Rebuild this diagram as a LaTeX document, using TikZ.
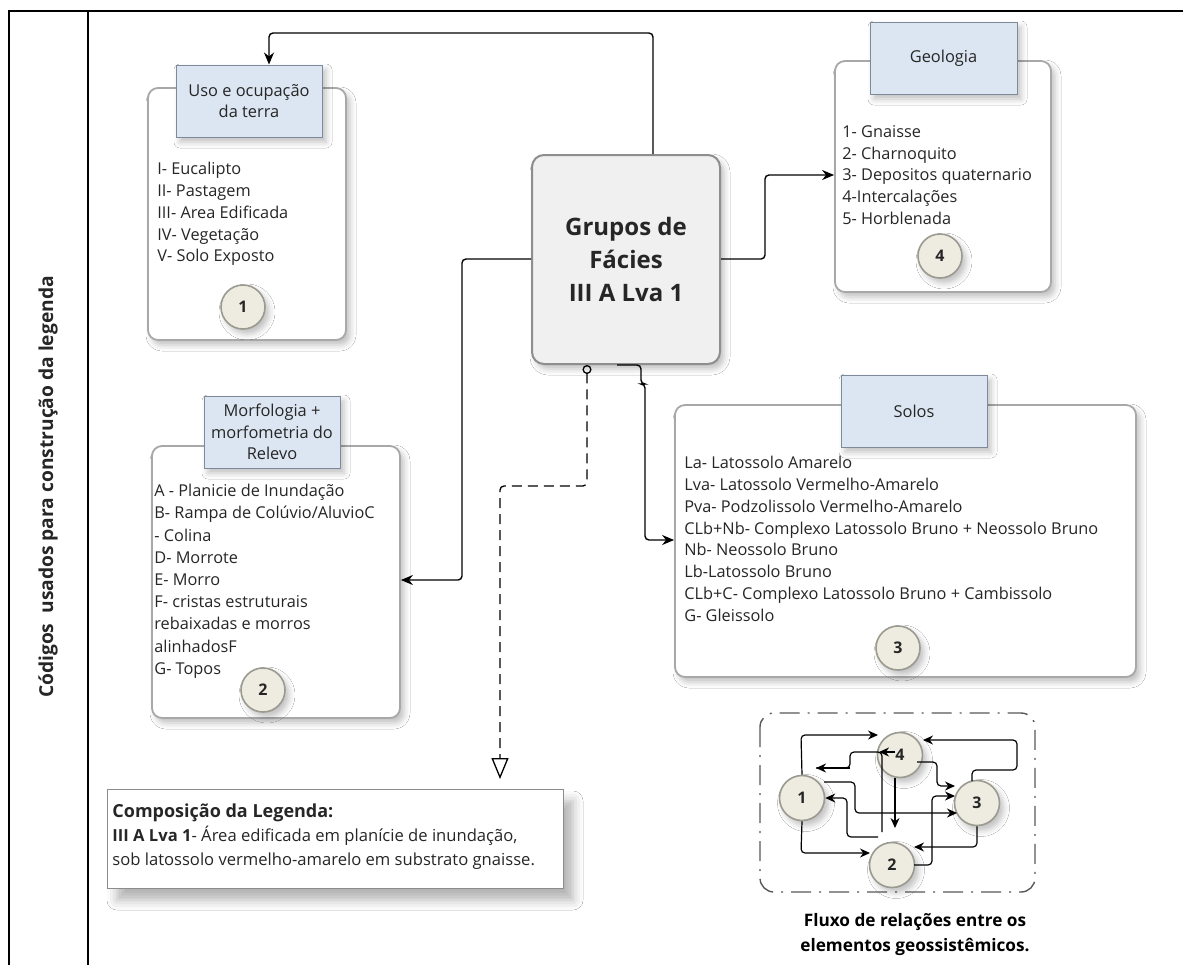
\documentclass[tikz,border=0pt]{standalone}
\usepackage{fontspec}
\setmainfont{Open Sans}
\usetikzlibrary{arrows.meta,shadows.blur}

\definecolor{hdrfill}{HTML}{DCE6F2}
\definecolor{hdrline}{HTML}{7D8A99}
\definecolor{boxline}{HTML}{A8A8A8}
\definecolor{ctrfill}{HTML}{F0F0F0}
\definecolor{ctrline}{HTML}{8E8E8E}
\definecolor{numfill}{HTML}{EEECE1}
\definecolor{numline}{HTML}{9A9A90}
\definecolor{ink}{HTML}{262626}

\newcommand\lstfont{\fontsize{8.15pt}{10.9pt}\selectfont}
\newcommand\morfont{\fontsize{8.15pt}{11.1pt}\selectfont}
\newcommand\hdrfont{\fontsize{8.2pt}{10.8pt}\selectfont}
\newcommand\numfont{\fontsize{8pt}{9pt}\selectfont\bfseries}
\newcommand\grpfont{\fontsize{12pt}{16.5pt}\selectfont\bfseries}
\newcommand\compfont{\fontsize{8.3pt}{12pt}\selectfont}
\newcommand\capfont{\fontsize{8.6pt}{12.5pt}\selectfont\bfseries}
\newcommand\sidefont{\fontsize{9.6pt}{11pt}\selectfont\bfseries}

\begin{document}
\begin{tikzpicture}[x=0.5pt,y=-0.5pt,
  softshadow/.style={blur shadow={shadow xshift=2pt,shadow yshift=-2.5pt,shadow blur radius=3pt,shadow opacity=25}},
  panel/.style={draw=boxline,line width=0.9pt,fill=white,rounded corners=5pt,softshadow},
  hdr/.style={draw=hdrline,line width=0.5pt,fill=hdrfill,align=center,font=\hdrfont,text=ink,inner sep=0pt,softshadow},
  listtxt/.style={align=left,anchor=north west,inner sep=0pt,font=\lstfont,text=ink},
  num/.style={circle,draw=numline,line width=0.8pt,fill=numfill,minimum size=22pt,inner sep=0pt,font=\numfont,text=ink,softshadow},
  netnum/.style={num,minimum size=22.5pt},
  grpbox/.style={draw=ctrline,line width=1pt,fill=ctrfill,rounded corners=6pt,align=center,font=\grpfont,text=ink,softshadow},
  conn/.style={draw=black,line width=0.7pt,rounded corners=2pt,-{Stealth[length=6pt,width=5pt]}},
  nconn/.style={draw=black,line width=0.6pt,rounded corners=2pt,-{Stealth[length=5pt,width=4.5pt]}},
  nline/.style={draw=black,line width=0.6pt,rounded corners=2pt},
  dashconn/.style={draw=black,line width=0.65pt,rounded corners=2pt,dash pattern=on 5pt off 3pt,
    {Circle[open,length=4.5pt,width=4.5pt]}-{Triangle[open,length=10.5pt,width=8.5pt]}},
  netframe/.style={draw=black!65,line width=0.7pt,rounded corners=7pt,dash pattern=on 10pt off 4pt on 1pt off 4pt}
]
\useasboundingbox (0,0) rectangle (1183,965);
\fill[white] (0,0) rectangle (1183,965);

% outer frame with the side column
\draw[line width=1pt] (1183,11) -- (9,11) -- (9,965);
\draw[line width=1pt] (88,11) -- (88,965);
\node[rotate=90,font=\sidefont,text=ink] (side) at (48,487) {Códigos\ \ usados para construção da legenda};

% land use
\node[panel,minimum width=99pt,minimum height=126pt] (uso) at (247,214) {};
\node[hdr,minimum width=73pt,minimum height=36pt] (usoh) at (249,101) {Uso e ocupação\\da terra};
\node[listtxt] (usol) at (157,162) {I- Eucalipto\\II- Pastagem\\III- Area Edificada\\IV- Vegetação\\V- Solo Exposto};
\node[num] (c1) at (243,307) {1};

% relief
\node[panel,minimum width=124pt,minimum height=136pt] (mor) at (276,582) {};
\node[hdr,minimum width=68pt,minimum height=36pt] (morh) at (272,432) {Morfologia +\\morfometria do\\Relevo};
\node[listtxt,font=\morfont] (morl) at (154,484) {A - Planicie de Inundação\\B- Rampa de Colúvio/AluvioC\\- Colina\\D- Morrote\\E- Morro\\F- cristas estruturais\\rebaixadas e morros\\alinhadosF\\G- Topos};
\node[num] (c2) at (263,690) {2};

% geology
\node[panel,minimum width=108pt,minimum height=115.5pt] (geo) at (943,176.5) {};
\node[hdr,minimum width=73.5pt,minimum height=36pt] (geoh) at (943.5,58) {Geologia};
\node[listtxt] (geol) at (842,125) {1- Gnaisse\\2- Charnoquito\\3- Depositos quaternario\\4-Intercalações\\5- Horblenada};
\node[num] (c4) at (940,256) {4};

% soils
\node[panel,minimum width=230.5pt,minimum height=136pt] (sol) at (905.5,541) {};
\node[hdr,minimum width=73pt,minimum height=36pt] (solh) at (914,411) {Solos};
\node[listtxt] (soll) at (684,456) {La- Latossolo Amarelo\\Lva- Latossolo Vermelho-Amarelo\\Pva- Podzolissolo Vermelho-Amarelo\\CLb+Nb- Complexo Latossolo Bruno + Neossolo Bruno\\Nb- Neossolo Bruno\\Lb-Latossolo Bruno\\CLb+C- Complexo Latossolo Bruno + Cambissolo\\G- Gleissolo};
\node[num] (c3) at (898,648) {3};

% central facies group
\node[grpbox,minimum width=94pt,minimum height=104.5pt] (grp) at (626,259.5) {Grupos de\\Fácies\\III A Lva 1};

% legend composition
\node[draw=black!45,line width=0.5pt,fill=white,minimum width=228pt,minimum height=49.5pt,
  blur shadow={shadow xshift=5pt,shadow yshift=-6pt,shadow blur radius=5pt,shadow opacity=30}] (comp) at (335,838.5) {};
\node[align=left,anchor=north west,inner sep=0pt,font=\compfont,text=ink] (compt) at (112,803)
  {{\fontsize{9pt}{12pt}\selectfont\bfseries Composição da Legenda:}\\\textbf{III A Lva 1}- Área edificada em planície de inundação,\\sob latossolo vermelho-amarelo em substrato gnaisse.};

% connectors from the central group
\coordinate (tA) at (653,33);
\coordinate (tB) at (269,33);
\draw[conn] (grp.north -| tA) -- (tA) -- (tB) -- (usoh.north -| tB);

\coordinate (rA) at (765,259);
\coordinate (rB) at (765,175);
\draw[conn] (grp.east |- rA) -- (rA) -- (rB) -- (geo.west |- rB);

\coordinate (lA) at (462,259);
\coordinate (lB) at (462,580);
\draw[conn] (grp.west |- lA) -- (lA) -- (lB) -- (mor.east |- lB);

\coordinate (bA) at (617,365);
\coordinate (bB) at (641,365);
\coordinate (bC) at (641,384);
\coordinate (bD) at (645,384);
\coordinate (bE) at (645,540);
\draw[conn] (grp.south -| bA) -- (bB) -- (bC) -- (bD) -- (bE) -- (sol.west |- bE);

\coordinate (dA) at (587,486);
\coordinate (dB) at (500,486);
\coordinate (dC) at (500,779);
\draw[dashconn] (grp.south -| dA) -- (dA) -- (dB) -- (dC);

% flow between the four elements
\draw[netframe] (760,713) rectangle (1035,892);
\node[netnum] (n1) at (802,798) {1};
\node[netnum] (n4) at (900,755) {4};
\node[netnum] (n3) at (977,803) {3};
\node[netnum] (n2) at (892,865) {2};

\draw[nconn] (n1.north) -- (801,735) -- (878,735);
\draw[nconn] (972,781) -- (972,770) -- (1017,770) -- (1017,740) -- (923,740);
\draw[nline] (882,832) -- (882,752) -- (850,752) -- (850,768) -- (816,768);
\draw[nconn] (850,768) -- (816,768);
\draw[nconn] (895,752) -- (879,752);
\draw[nconn] (917,762) -- (937,762) -- (937,786) -- (955,786);
\draw[nconn] (n4.south -| 895,0) -- (895,828);
\draw[nconn] (824,782) -- (855,782) -- (855,813) -- (957,813);
\draw[nconn] (878,837) -- (847,837) -- (847,798) -- (n1.east);
\draw[nconn] (n1.south) -- (801,853) -- (870,853);
\draw[nconn] (n3.south) -- (977,847) -- (914,847);
\draw[nconn] (914,865) -- (932,865) -- (932,796) -- (955,796);

\node[font=\capfont,align=center,text=black] (cap) at (915,935) {Fluxo de relações entre os\\elementos geossistêmicos.};
\end{tikzpicture}
\end{document}
